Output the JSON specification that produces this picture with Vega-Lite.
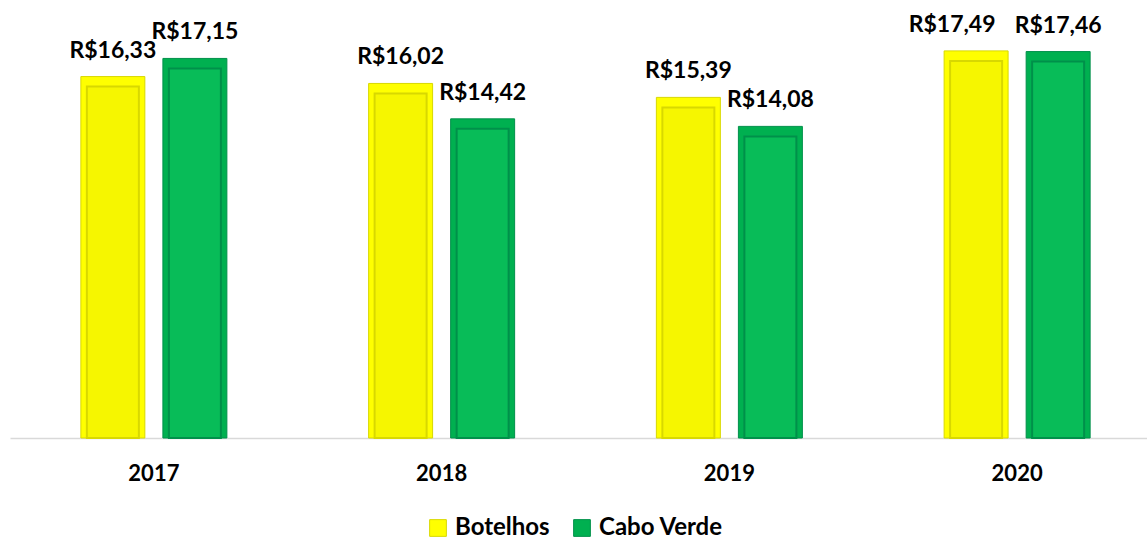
{
  "$schema": "https://vega.github.io/schema/vega-lite/v6.json",
  "width": 1151,
  "height": 438,
  "autosize": {"type": "none"},
  "padding": {"left": 10, "top": 0, "right": 0, "bottom": 106},
  "background": "white",
  "config": {"view": {"stroke": null}},
  "data": {"values": [
    {"ano": "2017", "serie": "Botelhos", "valor": 16.33, "rotulo": "R$16,33"},
    {"ano": "2017", "serie": "Cabo Verde", "valor": 17.15, "rotulo": "R$17,15"},
    {"ano": "2018", "serie": "Botelhos", "valor": 16.02, "rotulo": "R$16,02"},
    {"ano": "2018", "serie": "Cabo Verde", "valor": 14.42, "rotulo": "R$14,42"},
    {"ano": "2019", "serie": "Botelhos", "valor": 15.39, "rotulo": "R$15,39"},
    {"ano": "2019", "serie": "Cabo Verde", "valor": 14.08, "rotulo": "R$14,08"},
    {"ano": "2020", "serie": "Botelhos", "valor": 17.49, "rotulo": "R$17,49"},
    {"ano": "2020", "serie": "Cabo Verde", "valor": 17.46, "rotulo": "R$17,46"}
  ]},
  "encoding": {
    "x": {"field": "ano", "type": "nominal", "scale": {"paddingInner": 0.4926, "paddingOuter": 0.2463},
      "axis": {"title": null, "labelAngle": 0, "ticks": false, "domainColor": "#d9d9d9", "domainWidth": 1.5,
        "labelFont": "Lato", "labelFontWeight": "bold", "labelFontSize": 22, "labelColor": "#000000", "labelPadding": 25}},
    "xOffset": {"field": "serie", "type": "nominal", "scale": {"paddingInner": 0.22, "paddingOuter": 0}},
    "y": {"field": "valor", "type": "quantitative", "stack": null, "scale": {"domain": [0, 19.79], "nice": false}, "axis": null}
  },
  "layer": [
    {
      "mark": {"type": "bar", "strokeWidth": 1},
      "encoding": {
        "color": {"field": "serie", "type": "nominal",
          "scale": {"domain": ["Botelhos", "Cabo Verde"], "range": ["#FFFF00", "#00B050"]},
          "legend": {"title": null, "orient": "none", "legendX": 416, "legendY": 516, "direction": "horizontal",
            "symbolType": "square", "symbolSize": 280, "symbolStrokeWidth": 1, "symbolOpacity": 1,
            "labelFont": "Lato", "labelFontWeight": "bold", "labelFontSize": 24, "labelColor": "#000000",
            "columnPadding": 20, "labelOffset": 5}},
        "stroke": {"field": "serie", "type": "nominal",
          "scale": {"domain": ["Botelhos", "Cabo Verde"], "range": ["#D8D800", "#00904A"]}, "legend": null}
      }
    },
    {
      "mark": {"type": "bar", "width": 52, "yOffset": 10, "y2Offset": -17, "strokeWidth": 2, "fillOpacity": 1},
      "encoding": {
        "fill": {"field": "serie", "type": "nominal",
          "scale": {"domain": ["Botelhos", "Cabo Verde"], "range": ["#F6F600", "#08BC58"]}, "legend": null},
        "stroke": {"field": "serie", "type": "nominal",
          "scale": {"domain": ["Botelhos", "Cabo Verde"], "range": ["#C4C400", "#006B33"]}, "legend": null}
      }
    },
    {
      "transform": [{"filter": "!(datum.ano == '2020' && datum.serie == 'Botelhos')"}],
      "mark": {"type": "text", "baseline": "alphabetic", "dy": -19, "font": "Lato", "fontWeight": "bold", "fontSize": 23, "color": "#000000"},
      "encoding": {"text": {"field": "rotulo"}}
    },
    {
      "transform": [{"filter": "datum.ano == '2020' && datum.serie == 'Botelhos'"}],
      "mark": {"type": "text", "baseline": "alphabetic", "dy": -19, "dx": -24, "font": "Lato", "fontWeight": "bold", "fontSize": 23, "color": "#000000"},
      "encoding": {"text": {"field": "rotulo"}}
    }
  ]
}
